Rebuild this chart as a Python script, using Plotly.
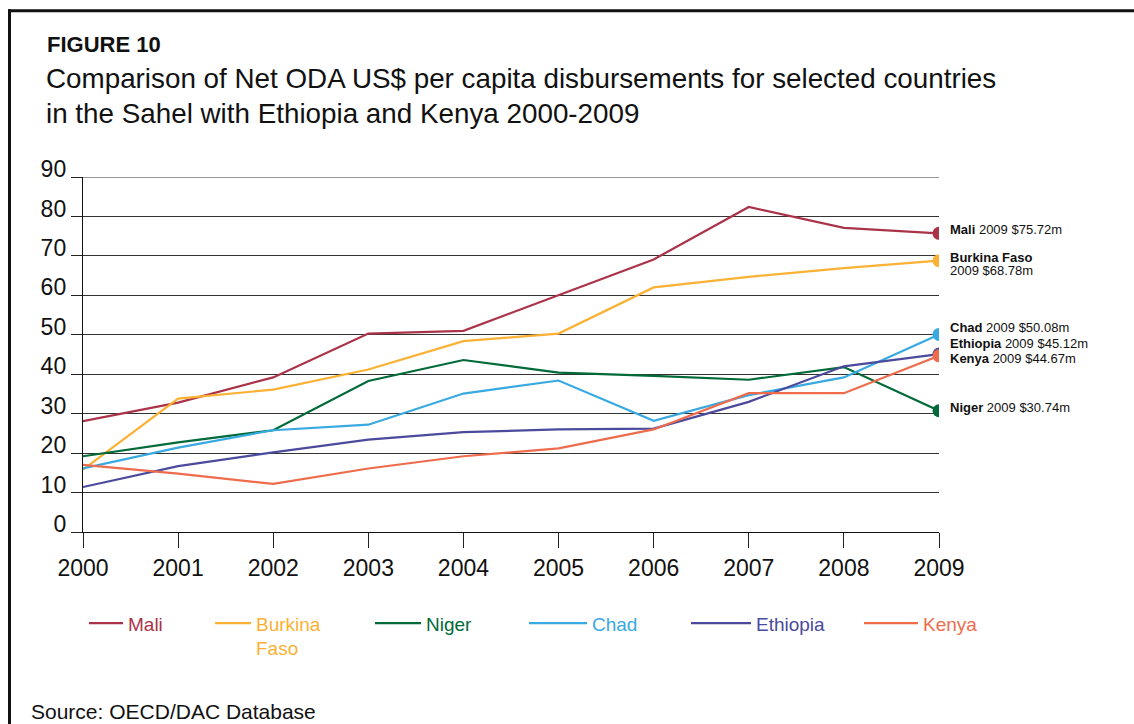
import plotly.graph_objects as go

# ---- data: net ODA per capita (US$) -----------------------------------
years = [2000, 2001, 2002, 2003, 2004, 2005, 2006, 2007, 2008, 2009]
mali = [28.1, 32.8, 39.2, 50.3, 51.0, 60.0, 69.1, 82.4, 77.1, 75.72]
burkina_faso = [15.8, 33.8, 36.1, 41.2, 48.4, 50.3, 62.0, 64.7, 66.9, 68.78]
niger = [19.2, 22.7, 25.8, 38.3, 43.6, 40.4, 39.6, 38.6, 41.8, 30.74]
chad = [16.1, 21.4, 25.8, 27.2, 35.1, 38.4, 28.2, 34.7, 39.2, 50.08]
ethiopia = [11.4, 16.7, 20.2, 23.4, 25.3, 26.0, 26.2, 33.0, 42.0, 45.12]
kenya = [17.0, 14.8, 12.2, 16.1, 19.2, 21.2, 26.0, 35.2, 35.2, 44.67]

countries = ["Mali", "Burkina Faso", "Niger", "Chad", "Ethiopia", "Kenya"]
series = [mali, burkina_faso, niger, chad, ethiopia, kenya]
y_ticks = [0, 10, 20, 30, 40, 50, 60, 70, 80, 90]

# ---- styling ------------------------------------------------------------
colors = ["#AB3349", "#FBB133", "#006A38", "#38A9E1", "#4B4A9C", "#EE6C4C"]
legend_names = ["Mali", "Burkina<br>Faso", "Niger", "Chad", "Ethiopia", "Kenya"]
legend_left_px = [84, 210, 370, 524, 686, 859]      # left edge of each legend item
legend_item_w = [34, 36, 46, 58, 60, 54]            # length of the legend line sample
label_yshift = [4, 3, 3, 7, 11, -2.5]               # nudges for the end-of-line labels

W, H = 1134, 724
L, R, T, B = 83, 939, 176.7, 531.7                  # plot area in pixels
FONT = "Liberation Sans, Arial, Helvetica, sans-serif"


def px_x(px):
    return (px - L) / (R - L)


def px_y(py):
    return (B - py) / (B - T)


fig = go.Figure()
legend_keys = ["legend", "legend2", "legend3", "legend4", "legend5", "legend6"]

for i, (name, vals, col) in enumerate(zip(countries, series, colors)):
    fig.add_trace(go.Scatter(
        x=years, y=vals, mode="lines",
        line=dict(color=col, width=2.2),
        name=f'<span style="color:{col}">{legend_names[i]}</span>',
        legend=legend_keys[i],
        hoverinfo="skip",
    ))
    # end point marker
    fig.add_trace(go.Scatter(
        x=[years[-1]], y=[vals[-1]], mode="markers",
        marker=dict(color=col, size=13),
        showlegend=False, hoverinfo="skip",
    ))

# end-of-line labels
annotations = []
for i, (name, vals) in enumerate(zip(countries, series)):
    value_txt = f"{years[-1]} ${vals[-1]:.2f}m"
    if name == "Burkina Faso":
        lines = [f"<b>{name}</b>", value_txt]
    else:
        lines = [f"<b>{name}</b> {value_txt}"]
    for k, ln in enumerate(lines):
        annotations.append(dict(
            x=years[-1], y=vals[-1], xref="x", yref="y",
            text=ln, showarrow=False, xanchor="left", yanchor="middle",
            xshift=9, yshift=label_yshift[i] - 12.7 * k,
            font=dict(family=FONT, size=13, color="#111111"),
        ))

# heading and source
annotations += [
    dict(x=px_x(45), y=px_y(44), xref="paper", yref="paper",
         text="<b>FIGURE 10</b>", showarrow=False, xanchor="left", yanchor="middle",
         font=dict(family=FONT, size=22, color="#111111")),
    dict(x=px_x(44), y=px_y(78), xref="paper", yref="paper",
         text="Comparison of Net ODA US$ per capita disbursements for selected countries",
         showarrow=False, xanchor="left", yanchor="middle",
         font=dict(family=FONT, size=27.8, color="#111111")),
    dict(x=px_x(44), y=px_y(113), xref="paper", yref="paper",
         text="in the Sahel with Ethiopia and Kenya 2000-2009",
         showarrow=False, xanchor="left", yanchor="middle",
         font=dict(family=FONT, size=27.8, color="#111111")),
    dict(x=px_x(29), y=px_y(711), xref="paper", yref="paper",
         text="Source: OECD/DAC Database", showarrow=False,
         xanchor="left", yanchor="middle",
         font=dict(family=FONT, size=21, color="#111111")),
]

# frame around the figure (top and left rules), plus the grid rule at the
# top of the value axis, which plotly skips when it sits on the plot edge
shapes = [
    dict(type="line", xref="paper", yref="paper",
         x0=px_x(8), x1=px_x(W + 5), y0=px_y(10.5), y1=px_y(10.5),
         line=dict(color="#111111", width=3)),
    dict(type="line", xref="paper", yref="paper",
         x0=px_x(9.5), x1=px_x(9.5), y0=px_y(9), y1=px_y(H + 5),
         line=dict(color="#111111", width=3)),
    dict(type="line", xref="paper", yref="y",
         x0=0, x1=1, y0=y_ticks[-1], y1=y_ticks[-1],
         line=dict(color="#333333", width=1.2), layer="below"),
]

layout_legends = {}
for i, key in enumerate(legend_keys):
    layout_legends[key] = dict(
        x=px_x(legend_left_px[i]), y=px_y(604), xanchor="left", yanchor="top",
        orientation="v", bgcolor="rgba(0,0,0,0)",
        font=dict(family=FONT, size=19),
        itemwidth=max(30, legend_item_w[i]),
        valign="top", tracegroupgap=0,
    )

fig.update_layout(
    width=W, height=H,
    margin=dict(l=L, r=W - R, t=T, b=H - B, pad=0),
    paper_bgcolor="white", plot_bgcolor="white",
    annotations=annotations, shapes=shapes,
    **layout_legends,
)

fig.update_xaxes(
    range=[2000, 2009], tickvals=years, ticktext=[str(y) for y in years],
    showline=True, linecolor="#111111", linewidth=1.4,
    ticks="outside", ticklen=15, tickwidth=1.4, tickcolor="#222222",
    showgrid=False, zeroline=False,
    tickfont=dict(family=FONT, size=23, color="#111111"),
)
fig.update_yaxes(
    range=[0, 90], tickvals=y_ticks,
    showline=True, linecolor="#111111", linewidth=1.4,
    ticks="outside", ticklen=11, tickwidth=1.4, tickcolor="#222222",
    showgrid=True, gridcolor="#333333", gridwidth=1.2, zeroline=False,
    ticklabelshift=-8, ticklabelstandoff=0,
    tickfont=dict(family=FONT, size=23, color="#111111"),
)

fig.write_html("out.html")
